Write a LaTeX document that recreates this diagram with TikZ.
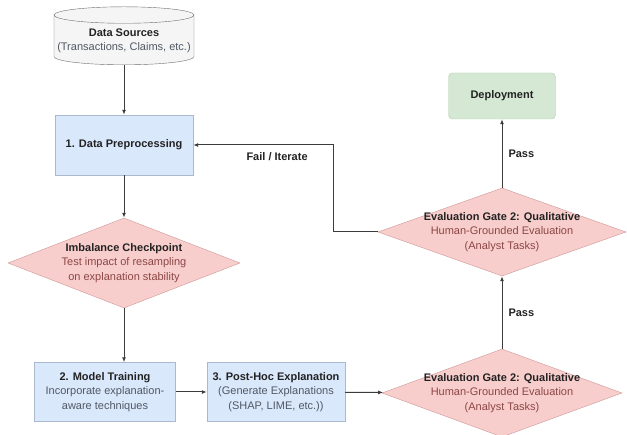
\documentclass[tikz,border=0pt]{standalone}
\usepackage{fontspec}
\setmainfont{Liberation Sans}
\usepackage{xcolor}
\usepackage{tikz}
\usetikzlibrary{arrows.meta,calc,positioning,shapes.geometric}
\definecolor{linegrey}{RGB}{60,60,60}
\definecolor{titlegrey}{RGB}{34,34,34}
\definecolor{subgrey}{RGB}{80,88,100}
\definecolor{subred}{RGB}{140,70,70}
\definecolor{softblue}{RGB}{218,232,252}
\definecolor{edgeblue}{RGB}{170,185,205}
\definecolor{softpink}{RGB}{248,206,204}
\definecolor{edgepink}{RGB}{205,150,150}
\definecolor{softgreen}{RGB}{213,232,212}
\definecolor{edgegreen}{RGB}{175,205,170}
\definecolor{softgrey}{RGB}{245,245,245}
\definecolor{edgegrey}{RGB}{110,110,110}
\tikzset{
  process/.style={draw=edgeblue,fill=softblue,align=center,inner sep=2pt,
    font=\fontsize{11}{14.5}\selectfont,text=titlegrey},
  decision/.style={diamond,draw=edgepink,fill=softpink,align=center,
    inner sep=0pt,font=\fontsize{11}{14.5}\selectfont,text=titlegrey},
  datastore/.style={cylinder,shape border rotate=90,aspect=0.12,
    draw=edgegrey,fill=softgrey,align=center,inner sep=2pt,
    font=\fontsize{11}{14.5}\selectfont,text=titlegrey},
  deploybox/.style={draw=edgegreen,fill=softgreen,rounded corners=4pt,
    align=center,font=\fontsize{11}{14.5}\selectfont\bfseries,text=titlegrey},
  flow/.style={-{Latex[length=5pt,width=4pt]},line width=1pt,draw=linegrey},
  smalllabel/.style={font=\fontsize{11}{13}\selectfont\bfseries,
    text=titlegrey,inner sep=2pt}
}
\newcommand{\boxsub}[1]{{\color{subgrey}#1}}
\newcommand{\gatesub}[1]{{\color{subred}#1}}

\begin{document}
\begin{tikzpicture}[x=1pt,y=-1pt]
  \useasboundingbox (0,0) rectangle (627,435);
  \node[datastore,minimum width=140pt,minimum height=58pt] (src) at (124,41)
    {\textbf{Data Sources}\\\boxsub{(Transactions, Claims, etc.)}};
  \node[process,minimum width=138pt,minimum height=60pt] (prep) at (124,145)
    {\textbf{1. Data Preprocessing}};
  \node[decision,aspect=2.58,minimum width=232pt,minimum height=90pt] (imbal) at (124,263)
    {\textbf{Imbalance Checkpoint}\\\gatesub{Test impact of resampling}\\
     \gatesub{on explanation stability}};
  \node[process,minimum width=141pt,minimum height=59pt] (train) at (105,392)
    {\textbf{2. Model Training}\\\boxsub{Incorporate explanation-}\\
     \boxsub{aware techniques}};
  \node[process,minimum width=138pt,minimum height=59pt] (posthoc) at (276,392)
    {\textbf{3. Post-Hoc Explanation}\\\boxsub{(Generate Explanations}\\
     \boxsub{(SHAP, LIME, etc.))}};
  \node[decision,aspect=2.73,inner sep=-4pt,minimum width=240pt,minimum height=88pt]
    (gatelow) at (502,393)
    {\textbf{Evaluation Gate 2: Qualitative}\\\gatesub{Human-Grounded Evaluation}\\
     \gatesub{(Analyst Tasks)}};
  \node[decision,aspect=2.82,inner sep=-4pt,minimum width=248pt,minimum height=88pt]
    (gatehigh) at (502,232)
    {\textbf{Evaluation Gate 2: Qualitative}\\\gatesub{Human-Grounded Evaluation}\\
     \gatesub{(Analyst Tasks)}};
  \node[deploybox,minimum width=107pt,minimum height=46pt] (deploy) at (502,96)
    {Deployment};
  \coordinate (loop) at (333,232);

  \draw[flow] (src) -- (prep);
  \draw[flow] (prep) -- (imbal);
  \draw[flow] (imbal.south) -- (imbal.south |- train.north);
  \draw[flow] (train) -- (posthoc);
  \draw[flow] (posthoc) -- (gatelow);
  \draw[flow] (gatelow) -- node[smalllabel,right=4pt] {Pass} (gatehigh);
  \draw[flow] (gatehigh) -- node[smalllabel,right=4pt] {Pass} (deploy);
  \draw[flow] (gatehigh.west) -- (loop) |- (prep.east)
    node[smalllabel,pos=0.70,below=5pt] {Fail / Iterate};
\end{tikzpicture}
\end{document}
